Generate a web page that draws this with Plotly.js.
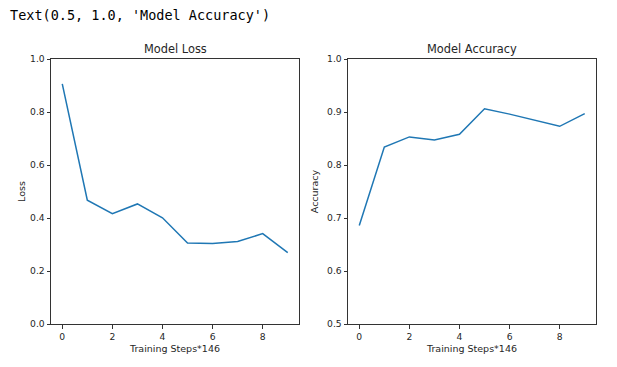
<!DOCTYPE html>
<html><head><meta charset="utf-8">
<script src="https://cdn.plot.ly/plotly-3.0.1.min.js"></script>
<style>body{margin:0;background:#fff}#c{width:617px;height:367px}</style>
</head><body><div id="c"></div>
<script>
const steps = [0,1,2,3,4,5,6,7,8,9];
const lossValues = [0.906,0.467,0.416,0.453,0.401,0.306,0.304,0.311,0.341,0.269];
const accValues = [0.686,0.834,0.853,0.847,0.858,0.906,0.896,0.885,0.873,0.897];
const outputText = "Text(0.5, 1.0, 'Model Accuracy')";
const lossTitle = "Model Loss", accTitle = "Model Accuracy";
const xLabel = "Training Steps*146";

const W=617,H=367;
const fx=p=>p/W, fy=p=>1-p/H;
const tickFont={family:"DejaVu Sans",size:9.2,color:"#262626"};
const axBase={showline:true,mirror:true,linecolor:"#333",linewidth:1,ticks:"outside",ticklen:3.5,tickcolor:"#333",showgrid:false,zeroline:false,tickfont:tickFont};
const layout={
  width:W,height:H,margin:{l:0,r:0,t:0,b:0},paper_bgcolor:"#fff",plot_bgcolor:"#fff",showlegend:false,
  xaxis:Object.assign({},axBase,{domain:[fx(51),fx(299)],range:[-0.45,9.45],dtick:2,tick0:0,anchor:"y",
    title:{text:xLabel,font:{family:"DejaVu Sans",size:9.5,color:"#262626"},standoff:4}}),
  yaxis:Object.assign({},axBase,{domain:[fy(324),fy(59)],range:[0,1],dtick:0.2,tickformat:".1f",anchor:"x",
    title:{text:"Loss",font:{family:"DejaVu Sans",size:9.5,color:"#262626"},standoff:2}}),
  xaxis2:Object.assign({},axBase,{domain:[fx(348),fx(596)],range:[-0.45,9.45],dtick:2,tick0:0,anchor:"y2",
    title:{text:xLabel,font:{family:"DejaVu Sans",size:9.5,color:"#262626"},standoff:4}}),
  yaxis2:Object.assign({},axBase,{domain:[fy(324),fy(59)],range:[0.5,1],dtick:0.1,tickformat:".1f",anchor:"x2",
    title:{text:"Accuracy",font:{family:"DejaVu Sans",size:9.5,color:"#262626"},standoff:6}}),
  annotations:[
    {text:outputText,xref:"paper",yref:"paper",x:fx(8),y:fy(5),xanchor:"left",yanchor:"top",showarrow:false,
     font:{family:"DejaVu Sans Mono",size:13.5,color:"#000"}},
    {text:lossTitle,xref:"paper",yref:"paper",x:fx(175),y:fy(58),xanchor:"center",yanchor:"bottom",showarrow:false,
     font:{family:"DejaVu Sans",size:11.4,color:"#262626"}},
    {text:accTitle,xref:"paper",yref:"paper",x:fx(472),y:fy(58),xanchor:"center",yanchor:"bottom",showarrow:false,
     font:{family:"DejaVu Sans",size:11.4,color:"#262626"}}
  ]
};
const data=[
  {x:steps,y:lossValues,type:"scatter",mode:"lines",line:{color:"#1f77b4",width:1.5},xaxis:"x",yaxis:"y"},
  {x:steps,y:accValues,type:"scatter",mode:"lines",line:{color:"#1f77b4",width:1.5},xaxis:"x2",yaxis:"y2"}
];
Plotly.newPlot("c",data,layout,{staticPlot:true});
</script></body></html>
